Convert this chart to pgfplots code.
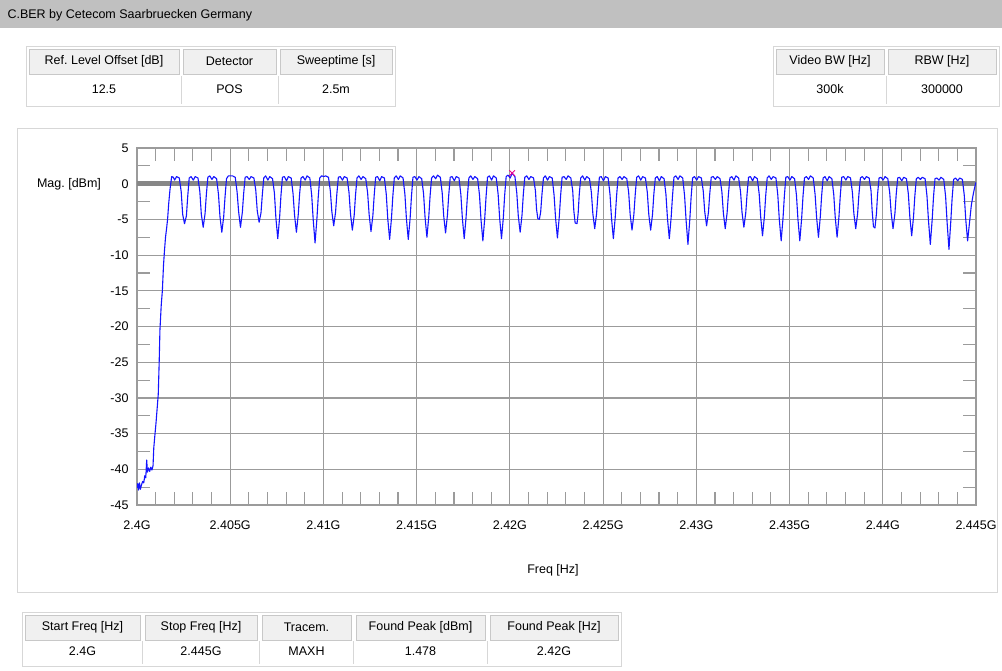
\documentclass[border=0pt]{standalone}
\usepackage{pgfplots}
\pgfplotsset{compat=1.18}
\usepackage{fontspec}
\setmainfont{Liberation Sans}
\frenchspacing
\definecolor{bargray}{RGB}{192,192,192}
\definecolor{gridgray}{RGB}{155,155,155}
\definecolor{zerogray}{RGB}{135,135,135}
\definecolor{framegray}{RGB}{215,215,215}
\definecolor{cellgray}{RGB}{200,200,200}
\definecolor{headfill}{RGB}{240,240,240}
\definecolor{traceblue}{RGB}{20,20,255}
\newcommand{\tf}{\fontsize{12.5}{15}\selectfont}
% header/value cell: x1, x2, top y of header, offset of value, header text, value text
\newcommand{\cell}[6]{%
  \filldraw[fill=headfill,draw=cellgray] (#1,#3) rectangle (#2,#3+25);
  \node[font=\tf] at ({(#1+#2)/2},#3+12.5) {#5};
  \node[font=\tf] at ({(#1+#2)/2},#3+12.5+#4) {#6};
}
\begin{document}
\begin{tikzpicture}
\path[use as bounding box, fill=white] (0pt,0pt) rectangle (1002pt,-670pt);
\begin{scope}[x=1pt,y=-1pt]
  \fill[bargray] (0,0) rectangle (1002,28);
  \node[font=\tf,anchor=west] at (4,15) {C.BER by Cetecom Saarbruecken Germany};
  % top-left table
  \draw[framegray] (26,46) rectangle (395,106);
  \draw[framegray] (181,76) -- (181,104);
  \draw[framegray] (278,76) -- (278,104);
  \cell{29}{179}{49}{28}{Ref. Level Offset [dB]}{12.5}
  \cell{183}{276}{49}{28}{Detector}{POS}
  \cell{280}{392}{49}{28}{Sweeptime [s]}{2.5m}
  % top-right table
  \draw[framegray] (773,46) rectangle (999,106);
  \draw[framegray] (886,76) -- (886,104);
  \cell{776}{884}{49}{28}{Video BW [Hz]}{300k}
  \cell{888}{996}{49}{28}{RBW [Hz]}{300000}
  % plot panel frame
  \draw[framegray] (17,128) rectangle (997,592);
  \node[font=\tf] at (69,184) {Mag. [dBm]};
  \node[font=\tf] at (553,570) {Freq [Hz]};
  % bottom table
  \draw[framegray] (22,612) rectangle (621,666);
  \draw[framegray] (142.5,641) -- (142.5,664);
  \draw[framegray] (259.5,641) -- (259.5,664);
  \draw[framegray] (353.5,641) -- (353.5,664);
  \draw[framegray] (487.5,641) -- (487.5,664);
  \cell{25}{140}{615}{24}{Start Freq [Hz]}{2.4G}
  \cell{145}{257}{615}{24}{Stop Freq [Hz]}{2.445G}
  \cell{262}{351}{615}{24}{Tracem.}{MAXH}
  \cell{356}{485}{615}{24}{Found Peak [dBm]}{1.478}
  \cell{490}{618}{615}{24}{Found Peak [Hz]}{2.42G}
\end{scope}
\begin{axis}[
  at={(137pt,-505pt)}, anchor=south west,
  width=839pt, height=357pt, scale only axis,
  xmin=2400, xmax=2445, ymin=-45, ymax=5,
  xtick={2400,2405,2410,2415,2420,2425,2430,2435,2440,2445},
  xticklabels={2.4G,2.405G,2.41G,2.415G,2.42G,2.425G,2.43G,2.435G,2.44G,2.445G},
  ytick={-45,-40,-35,-30,-25,-20,-15,-10,-5,0,5},
  yticklabels={-45,-40,-35,-30,-25,-20,-15,-10,-5,0,5},
  minor x tick num=4, minor y tick num=1,
  grid=major,
  major grid style={gridgray, line width=1.2pt},
  axis line style={gridgray, line width=1.2pt},
  tick style={gridgray, line width=1.1pt},
  major tick length=0pt, minor tick length=13pt,
  tick label style={font=\tf},
  xticklabel style={yshift=-12pt},
  yticklabel style={xshift=-5pt},
  clip=true,
]
\addplot[zerogray, line width=4.5pt] coordinates {(2400,0) (2445,0)};
\addplot[traceblue, line width=1.1pt, line join=round] coordinates {
(2400.00,-42.6) (2400.04,-42.0) (2400.08,-42.9) (2400.13,-41.9) (2400.18,-42.8) (2400.24,-42.2) (2400.30,-41.7) (2400.36,-41.9) (2400.42,-40.9) (2400.47,-41.2) (2400.52,-38.7) (2400.56,-40.4) (2400.62,-39.8) (2400.68,-40.3) (2400.74,-39.7) (2400.80,-40.1) (2400.86,-39.5) (2400.90,-37.0) (2400.95,-35.5) (2401.02,-33.5) (2401.08,-31.5) (2401.14,-29.5) (2401.19,-25.0) (2401.23,-20.5) (2401.30,-17.0) (2401.36,-15.0) (2401.42,-11.5) (2401.47,-9.5) (2401.53,-7.5) (2401.59,-6.2) (2401.64,-5.0) (2401.70,-2.8) (2401.77,-0.8) (2401.86,1.0)
(2401.95,0.9) (2402.02,0.5) (2402.12,1.0) (2402.27,0.8) (2402.37,-1.1) (2402.45,-4.3) (2402.55,-5.6)
(2402.65,-4.5) (2402.72,-1.8) (2402.80,0.8) (2402.90,1.0) (2403.02,0.5) (2403.12,1.0) (2403.27,0.8) (2403.37,-1.1) (2403.45,-4.3) (2403.55,-6.1)
(2403.65,-4.2) (2403.72,-1.5) (2403.80,0.9) (2403.90,1.1) (2404.02,0.6) (2404.12,1.0) (2404.27,0.7) (2404.37,-1.5) (2404.45,-4.6) (2404.55,-6.8)
(2404.65,-4.6) (2404.72,-1.9) (2404.80,0.7) (2404.90,1.1) (2405.02,1.1) (2405.12,1.1) (2405.27,0.9) (2405.37,-1.2) (2405.45,-3.9) (2405.55,-6.1)
(2405.65,-4.0) (2405.72,-1.4) (2405.80,0.9) (2405.90,1.0) (2406.02,0.6) (2406.12,1.0) (2406.27,0.8) (2406.37,-0.9) (2406.45,-3.8) (2406.55,-5.4)
(2406.65,-4.1) (2406.72,-1.6) (2406.80,0.8) (2406.90,1.1) (2407.02,0.5) (2407.12,1.0) (2407.27,0.7) (2407.37,-1.3) (2407.45,-4.8) (2407.55,-7.7)
(2407.65,-4.7) (2407.72,-1.7) (2407.80,0.9) (2407.90,1.0) (2408.02,0.4) (2408.12,1.0) (2408.27,0.8) (2408.37,-1.4) (2408.45,-4.4) (2408.55,-6.8)
(2408.65,-4.3) (2408.72,-1.5) (2408.80,0.8) (2408.90,1.0) (2409.02,0.5) (2409.12,1.1) (2409.27,0.8) (2409.37,-1.6) (2409.45,-5.0) (2409.55,-8.3)
(2409.65,-4.9) (2409.72,-1.9) (2409.80,0.8) (2409.90,1.1) (2410.02,1.0) (2410.12,1.1) (2410.27,0.9) (2410.37,-1.0) (2410.45,-3.9) (2410.55,-5.9)
(2410.65,-4.0) (2410.72,-1.4) (2410.80,0.9) (2410.90,1.0) (2411.02,0.5) (2411.12,1.0) (2411.27,0.8) (2411.37,-1.2) (2411.45,-4.2) (2411.55,-6.5)
(2411.65,-4.4) (2411.72,-1.6) (2411.80,0.8) (2411.90,1.1) (2412.02,0.6) (2412.12,1.0) (2412.27,0.7) (2412.37,-1.3) (2412.45,-4.3) (2412.55,-6.7)
(2412.65,-4.5) (2412.72,-1.7) (2412.80,0.9) (2412.90,1.0) (2413.02,0.4) (2413.12,1.0) (2413.27,0.8) (2413.37,-1.5) (2413.45,-4.9) (2413.55,-7.8)
(2413.65,-4.8) (2413.72,-1.8) (2413.80,0.8) (2413.90,1.1) (2414.02,0.6) (2414.12,1.1) (2414.27,0.8) (2414.37,-1.5) (2414.45,-4.9) (2414.55,-7.8)
(2414.65,-4.8) (2414.72,-1.8) (2414.80,0.9) (2414.90,1.0) (2415.02,0.5) (2415.12,1.0) (2415.27,0.7) (2415.37,-1.4) (2415.45,-4.7) (2415.55,-7.5)
(2415.65,-4.6) (2415.72,-1.7) (2415.80,0.8) (2415.90,1.1) (2416.02,0.7) (2416.12,1.2) (2416.27,0.9) (2416.37,-1.3) (2416.45,-4.5) (2416.55,-6.9)
(2416.65,-4.4) (2416.72,-1.6) (2416.80,0.9) (2416.90,1.0) (2417.02,0.4) (2417.12,1.0) (2417.27,0.8) (2417.37,-1.5) (2417.45,-4.8) (2417.55,-7.7)
(2417.65,-4.7) (2417.72,-1.8) (2417.80,0.8) (2417.90,1.1) (2418.02,0.6) (2418.12,1.0) (2418.27,0.7) (2418.37,-1.6) (2418.45,-5.0) (2418.55,-8.0)
(2418.65,-4.9) (2418.72,-1.9) (2418.80,0.9) (2418.90,1.1) (2419.02,0.5) (2419.12,1.1) (2419.27,0.8) (2419.37,-1.5) (2419.45,-4.8) (2419.55,-7.7)
(2419.65,-4.7) (2419.72,-1.6) (2419.80,1.0) (2419.90,1.2) (2420.02,0.8) (2420.12,1.478) (2420.27,1.0) (2420.37,-1.3) (2420.45,-4.5) (2420.55,-6.8)
(2420.65,-4.4) (2420.72,-1.5) (2420.80,0.9) (2420.90,1.1) (2421.02,0.6) (2421.12,1.0) (2421.27,0.8) (2421.37,-1.0) (2421.43,-3.6) (2421.50,-4.9) (2421.58,-5.0)
(2421.65,-4.0) (2421.72,-1.5) (2421.80,0.8) (2421.90,1.1) (2422.02,0.5) (2422.12,1.0) (2422.27,0.8) (2422.37,-1.6) (2422.45,-4.8) (2422.55,-7.6)
(2422.65,-4.6) (2422.72,-1.7) (2422.80,0.9) (2422.90,1.0) (2423.02,0.6) (2423.12,1.1) (2423.27,0.8) (2423.37,-1.0) (2423.43,-3.8) (2423.50,-5.5) (2423.60,-5.6)
(2423.66,-4.2) (2423.72,-1.5) (2423.80,0.8) (2423.90,1.1) (2424.02,0.5) (2424.12,1.0) (2424.27,0.7) (2424.37,-1.2) (2424.45,-4.2) (2424.55,-6.3)
(2424.65,-4.2) (2424.72,-1.6) (2424.80,0.9) (2424.90,1.0) (2425.02,0.4) (2425.12,1.0) (2425.27,0.8) (2425.37,-1.5) (2425.45,-4.8) (2425.55,-7.7)
(2425.65,-4.7) (2425.72,-1.8) (2425.80,0.8) (2425.90,1.0) (2426.02,0.6) (2426.12,1.0) (2426.27,0.7) (2426.37,-1.2) (2426.45,-4.3) (2426.55,-6.5)
(2426.65,-4.3) (2426.72,-1.6) (2426.80,0.9) (2426.90,1.1) (2427.02,0.5) (2427.12,1.0) (2427.27,0.8) (2427.37,-1.2) (2427.45,-4.3) (2427.55,-6.5)
(2427.65,-4.3) (2427.72,-1.5) (2427.80,0.8) (2427.90,1.0) (2428.02,0.4) (2428.12,1.0) (2428.27,0.7) (2428.37,-1.5) (2428.45,-4.8) (2428.55,-7.7)
(2428.65,-4.7) (2428.72,-1.8) (2428.80,0.9) (2428.90,1.1) (2429.02,0.6) (2429.12,1.1) (2429.27,0.8) (2429.37,-1.7) (2429.45,-5.1) (2429.55,-8.5)
(2429.65,-5.0) (2429.72,-1.9) (2429.80,0.8) (2429.90,1.0) (2430.02,0.5) (2430.12,1.0) (2430.27,0.8) (2430.37,-1.0) (2430.45,-3.9) (2430.55,-5.9)
(2430.65,-4.0) (2430.72,-1.4) (2430.80,0.9) (2430.90,1.0) (2431.02,0.6) (2431.12,1.0) (2431.27,0.7) (2431.37,-1.1) (2431.45,-4.1) (2431.55,-6.3)
(2431.65,-4.1) (2431.72,-1.5) (2431.80,0.8) (2431.90,1.0) (2432.02,0.5) (2432.12,1.1) (2432.27,0.8) (2432.37,-1.1) (2432.45,-4.0) (2432.55,-6.1)
(2432.65,-4.1) (2432.72,-1.5) (2432.80,0.9) (2432.90,1.0) (2433.02,0.4) (2433.12,1.0) (2433.27,0.7) (2433.37,-1.4) (2433.45,-4.6) (2433.55,-7.3)
(2433.65,-4.6) (2433.72,-1.7) (2433.80,0.8) (2433.90,1.1) (2434.02,0.6) (2434.12,1.0) (2434.27,0.8) (2434.37,-1.6) (2434.45,-5.0) (2434.55,-8.0)
(2434.65,-4.8) (2434.72,-1.8) (2434.80,0.9) (2434.90,1.0) (2435.02,0.5) (2435.12,1.0) (2435.27,0.7) (2435.37,-1.6) (2435.45,-5.0) (2435.55,-8.0)
(2435.65,-4.8) (2435.72,-1.8) (2435.80,0.8) (2435.90,1.0) (2436.02,0.6) (2436.12,1.1) (2436.27,0.8) (2436.37,-1.5) (2436.45,-4.7) (2436.55,-7.5)
(2436.65,-4.6) (2436.72,-1.7) (2436.80,0.8) (2436.90,1.0) (2437.02,0.4) (2437.12,1.0) (2437.27,0.7) (2437.37,-1.5) (2437.45,-4.7) (2437.55,-7.5)
(2437.65,-4.6) (2437.72,-1.7) (2437.80,0.9) (2437.90,1.0) (2438.02,0.5) (2438.12,1.0) (2438.27,0.8) (2438.37,-1.2) (2438.45,-4.2) (2438.55,-6.3)
(2438.65,-4.2) (2438.72,-1.5) (2438.80,0.8) (2438.90,1.0) (2439.02,0.6) (2439.12,1.0) (2439.27,0.8) (2439.37,-1.0) (2439.43,-3.8) (2439.50,-6.0) (2439.58,-6.2)
(2439.66,-4.2) (2439.72,-1.5) (2439.80,0.8) (2439.90,0.9) (2440.02,0.5) (2440.12,1.0) (2440.27,0.7) (2440.37,-1.2) (2440.45,-4.1) (2440.55,-6.3)
(2440.65,-4.2) (2440.72,-1.5) (2440.80,0.8) (2440.90,0.9) (2441.02,0.4) (2441.12,0.9) (2441.27,0.7) (2441.37,-1.4) (2441.45,-4.6) (2441.55,-7.3)
(2441.65,-4.6) (2441.72,-1.7) (2441.80,0.7) (2441.90,0.9) (2442.02,0.6) (2442.12,0.9) (2442.27,0.7) (2442.37,-1.7) (2442.45,-5.1) (2442.55,-8.5)
(2442.65,-5.0) (2442.72,-1.9) (2442.80,0.7) (2442.90,0.8) (2443.02,0.5) (2443.12,0.9) (2443.27,0.6) (2443.37,-1.8) (2443.45,-5.4) (2443.55,-9.2)
(2443.65,-5.2) (2443.72,-2.0) (2443.80,0.6) (2443.90,0.8) (2444.02,0.4) (2444.12,0.8) (2444.27,0.6) (2444.37,-1.6) (2444.45,-5.0) (2444.55,-8.0)
(2444.65,-5.5) (2444.75,-3.0) (2444.85,-1.5) (2444.93,-0.5) (2445.00,0.2)
};
\addplot[only marks, mark=x, magenta, mark size=4pt, line width=1pt] coordinates {(2420.12,1.478)};
\end{axis}
\end{tikzpicture}
\end{document}
